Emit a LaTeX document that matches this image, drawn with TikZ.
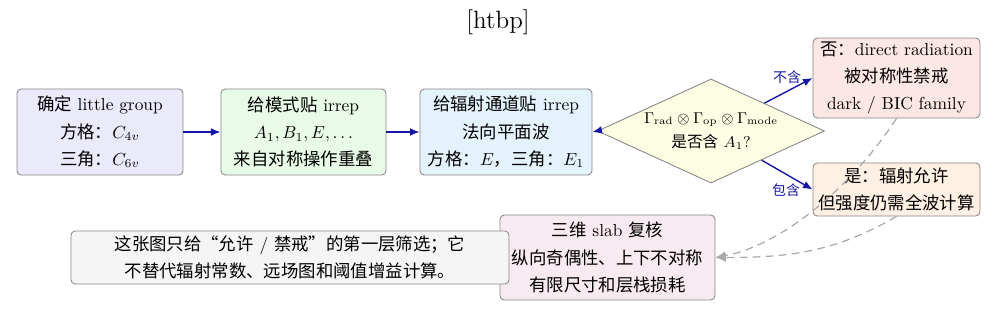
\documentclass[tikz,border=0pt]{standalone}
\usepackage[no-math]{fontspec}
\newfontfamily\cjk{Noto Sans CJK SC}
\newcommand\zh[1]{{\cjk #1}}
\usetikzlibrary{shapes.geometric,arrows.meta}
\definecolor{boxgray}{RGB}{135,135,135}
\definecolor{arrblue}{RGB}{22,22,165}
\definecolor{dgray}{RGB}{170,170,170}
\definecolor{fillA}{RGB}{234,234,251}
\definecolor{fillB}{RGB}{232,251,232}
\definecolor{fillC}{RGB}{228,242,252}
\definecolor{fillD}{RGB}{253,253,228}
\definecolor{fillNo}{RGB}{253,230,230}
\definecolor{fillYes}{RGB}{254,240,226}
\definecolor{fillSlab}{RGB}{248,234,241}
\definecolor{fillNote}{RGB}{245,245,245}
\begin{document}
\begin{tikzpicture}[x=0.575pt,y=-0.575pt,
  box/.style={draw=boxgray, rounded corners=2.5pt, line width=0.5pt, align=center,
    font=\fontsize{10}{15.6}\selectfont, inner sep=1pt},
  decide/.style={shape=diamond, draw=boxgray, line width=0.5pt, fill=fillD, aspect=2.18,
    inner sep=0pt, minimum width=130.5pt, minimum height=59.8pt, align=center,
    font=\fontsize{9}{14.3}\selectfont},
  arr/.style={draw=arrblue, line width=0.8pt, -{Latex[length=5.5pt,width=4.5pt]}},
  darr/.style={draw=dgray, line width=0.7pt, dash pattern=on 4.5pt off 3pt,
    -{Latex[length=6pt,width=5pt]}},
  lbl/.style={font=\footnotesize, text=arrblue, inner sep=1pt}
]
\useasboundingbox (0,0) rectangle (998,312);

\node[font=\Large] (title) at (498,22) {[htbp]};

\node[box, fill=fillA, minimum width=95.5pt, minimum height=49.5pt] (b1) at (100,132)
  {\zh{确定} little group\\ \zh{方格：}$C_{4v}$\\ \zh{三角：}$C_{6v}$};
\node[box, fill=fillB, minimum width=94.9pt, minimum height=49.5pt] (b2) at (303.5,132)
  {\zh{给模式贴} irrep\\ $A_1,B_1,E,\ldots$\\ \zh{来自对称操作重叠}};
\node[box, fill=fillC, minimum width=98.9pt, minimum height=49.5pt] (b3) at (506,132)
  {\zh{给辐射通道贴} irrep\\ \zh{法向平面波}\\ \zh{方格：}$E$\zh{，三角：}$E_1$};
\node[decide] (dia) at (711,131)
  {$\Gamma_{\mathrm{rad}}\otimes\Gamma_{\mathrm{op}}\otimes\Gamma_{\mathrm{mode}}$\\ \zh{是否含} $A_1$?};
\node[box, fill=fillNo, minimum width=96pt, minimum height=46pt] (no) at (896.5,78)
  {\zh{否：}direct radiation\\ \zh{被对称性禁戒}\\ dark / BIC family};
\node[box, fill=fillYes, minimum width=96pt, minimum height=30.5pt] (yes) at (896.5,189.5)
  {\zh{是：辐射允许}\\ \zh{但强度仍需全波计算}};
\node[box, fill=fillSlab, minimum width=123.6pt, minimum height=48.9pt] (slab) at (607.5,257.5)
  {\zh{三维} slab \zh{复核}\\ \zh{纵向奇偶性、上下不对称}\\ \zh{有限尺寸和层栈损耗}};
\node[box, fill=fillNote, minimum width=251.9pt, minimum height=30.5pt] (note) at (290,257.5)
  {\zh{这张图只给“允许} / \zh{禁戒”的第一层筛选；它}\\ \zh{不替代辐射常数、远场图和阈值增益计算。}};

\draw[arr] (b1.east) -- (b2.west);
\draw[arr] (b2.east) -- (b3.west);
\draw[arr] (dia.west) -- (b3.east);
\draw[arr] (dia) -- (no.west);
\draw[arr] (dia) -- (yes.west);
\node[lbl] (lno) at (787,77) {\zh{不含}};
\node[lbl] (lyes) at (786,190) {\zh{包含}};

\draw[darr] (no.south) .. controls +(-47,72) and +(64,-12) .. (slab.east);
\draw[darr] (yes.south) to[out=-150,in=0] (slab.east);
\end{tikzpicture}
\end{document}
